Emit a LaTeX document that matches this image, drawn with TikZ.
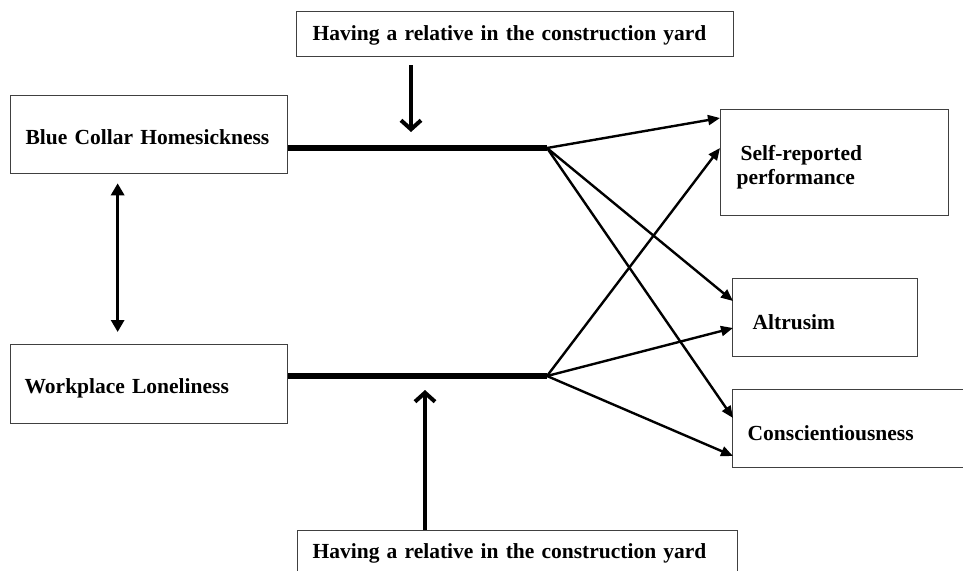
\documentclass[tikz,border=0pt]{standalone}
\usepackage{fontspec}
\setmainfont{Liberation Serif}
\usetikzlibrary{arrows.meta,calc}
\newcommand{\lowr}[2]{\raisebox{-#1}[\height][\depth]{#2}}
\begin{document}
\begin{tikzpicture}[x=1pt,y=-1pt,
  box/.style={draw=black!75,line width=1.3pt,rectangle,anchor=north west,
    align=left,inner ysep=0pt,font=\bfseries\fontsize{21.5}{24}\selectfont,text=black},
  thickline/.style={line width=6pt},
  modarrow/.style={line width=4pt,-{Straight Barb[length=9pt,width=20pt,line width=4pt]}},
  patharrow/.style={line width=2.4pt,-{Triangle[length=12pt,width=10pt]}},
  dblarrow/.style={line width=3pt,{Triangle[length=12pt,width=13pt]}-{Triangle[length=12pt,width=13pt]}}
]
\useasboundingbox (0,0) rectangle (963,570);
\clip (0,0) rectangle (963,570);
\fill[white] (0,0) rectangle (963,570);

\node[box,minimum width=437pt,minimum height=45pt,text width=405pt,inner xsep=16pt] (top) at (296,11) {\lowr{1pt}{Having a relative in the construction yard}};
\node[box,minimum width=277pt,minimum height=78pt,text width=247pt,inner xsep=15pt] (bch) at (10,95) {\lowr{3pt}{Blue Collar Homesickness}};
\node[box,minimum width=277pt,minimum height=79pt,text width=249pt,inner xsep=14pt] (wl) at (10,344) {\lowr{4.5pt}{Workplace Loneliness}};
\node[box,minimum width=228pt,minimum height=106pt,text width=196pt,inner xsep=16pt] (sr) at (720,109) {\lowr{5pt}{\begin{tabular}{@{}l@{}}\hspace*{4pt}Self-reported\\performance\end{tabular}}};
\node[box,minimum width=185pt,minimum height=78pt,text width=145pt,inner xsep=20pt] (alt) at (732,278) {\lowr{5pt}{Altrusim}};
\node[box,minimum width=240pt,minimum height=78pt,text width=210pt,inner xsep=15pt] (con) at (732,389) {\lowr{5pt}{Conscientiousness}};
\node[box,minimum width=440pt,minimum height=44pt,text width=410pt,inner xsep=15pt] (bot) at (297,530) {\lowr{1pt}{Having a relative in the construction yard}};

\coordinate (j1) at (547,148);
\coordinate (j2) at (547,376);

\draw[thickline] (bch.east |- j1) -- (j1);
\draw[thickline] (wl.east |- j2) -- (j2);

\coordinate (dnS) at (411,65);
\coordinate (dnE) at (411,132);
\draw[modarrow] (dnS) -- (dnE);
\coordinate (upE) at (425,390);
\draw[modarrow] (bot.north -| upE) -- (upE);

\draw[dblarrow] ($(bch.south)+(-31.5,9)$) -- ($(wl.north)+(-31.5,-12)$);

\draw[patharrow] (j1) -- ($(sr.north west)+(0,9)$);
\draw[patharrow] (j1) -- ($(alt.north west)+(1,23)$);
\draw[patharrow] (j1) -- ($(con.north west)+(1,29)$);
\draw[patharrow] (j2) -- ($(sr.north west)+(0,39)$);
\draw[patharrow] (j2) -- ($(alt.north west)+(1,50)$);
\draw[patharrow] (j2) -- ($(con.north west)+(1,67)$);
\end{tikzpicture}
\end{document}
